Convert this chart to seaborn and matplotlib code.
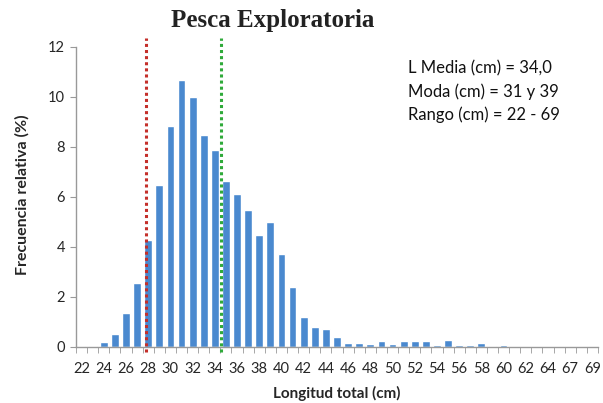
import matplotlib
matplotlib.use("Agg")
import matplotlib.pyplot as plt
import seaborn as sns
import numpy as np

categories = [str(c) for c in range(22, 65)] + ["65", "67", "68", "69"]
frecuencia = [0.03, 0.05, 0.2, 0.53, 1.35, 2.55, 4.28, 6.5, 8.85, 10.67,
              10.0, 8.5, 7.87, 6.65, 6.12, 5.5, 4.47, 5.0, 3.72, 2.41,
              1.19, 0.79, 0.71, 0.42, 0.17, 0.15, 0.12, 0.24, 0.12, 0.25,
              0.25, 0.23, 0.09, 0.27, 0.09, 0.08, 0.15, 0.03, 0.07, 0.01,
              0.01, 0.02, 0.01, 0.01, 0.01, 0.01, 0.02]
tick_labels = categories[0:43:2] + ["67", "69"]
linea_roja = 5.8    # position in category index units
linea_verde = 12.53
texto = ["L Media (cm) = 34,0", "Moda (cm) = 31 y 39", "Rango (cm) = 22 - 69"]

sns.set_style("white")
plt.rcParams['font.family'] = ['Lato', 'DejaVu Sans']

fig = plt.figure(figsize=(6.03, 4.03), dpi=100)
ax = fig.add_axes([76/603, 1-347/403, (598-76)/603, 300/403])

sns.barplot(x=categories, y=frecuencia, order=categories, color="#4a89cf",
            saturation=1, width=0.7, ax=ax)

ax.set_xlim(-0.5, len(categories)-0.5)
ax.set_ylim(0, 12)
ax.set_yticks(range(0, 13, 2))
ax.tick_params(axis='y', which='major', length=4, color='#999999', labelsize=10.5, pad=4, left=True)

major_pos = [categories.index(t) for t in tick_labels]
ax.set_xticks(major_pos)
ax.set_xticklabels(tick_labels)
ax.set_xticks(np.arange(-0.5, len(categories), 1.0), minor=True)
ax.tick_params(axis='x', which='major', length=0, labelsize=10.5, pad=11)
ax.tick_params(axis='x', which='minor', length=4, color='#999999', bottom=True)

for s in ['top', 'right']:
    ax.spines[s].set_visible(False)
for s in ['left', 'bottom']:
    ax.spines[s].set_color('#999999')
    ax.spines[s].set_linewidth(1)

ax.axvline(linea_roja, ymin=-0.015, ymax=1.03, color="#c42f2a", linestyle=(0, (1, 1)),
           linewidth=2.2, clip_on=False)
ax.axvline(linea_verde, ymin=-0.015, ymax=1.03, color="#2faa3a", linestyle=(0, (1, 1)),
           linewidth=2.2, clip_on=False)

for i, t in enumerate(texto):
    fig.text(408/603, 1-(68+i*23.5)/403, t, fontsize=12, ha='left', va='center', color='#111111')

fig.text(273/603, 1-20/403, "Pesca Exploratoria", fontsize=18, fontweight='bold',
         family=['Liberation Serif'], ha='center', va='center', color='#222222')
fig.text(22/603, 1-195/403, "Frecuencia relativa (%)", fontsize=11.5, fontweight='bold',
         rotation=90, ha='center', va='center')
fig.text(337/603, 1-393/403, "Longitud total (cm)", fontsize=11, fontweight='bold',
         ha='center', va='center')

fig.savefig("out.png", dpi=100)
